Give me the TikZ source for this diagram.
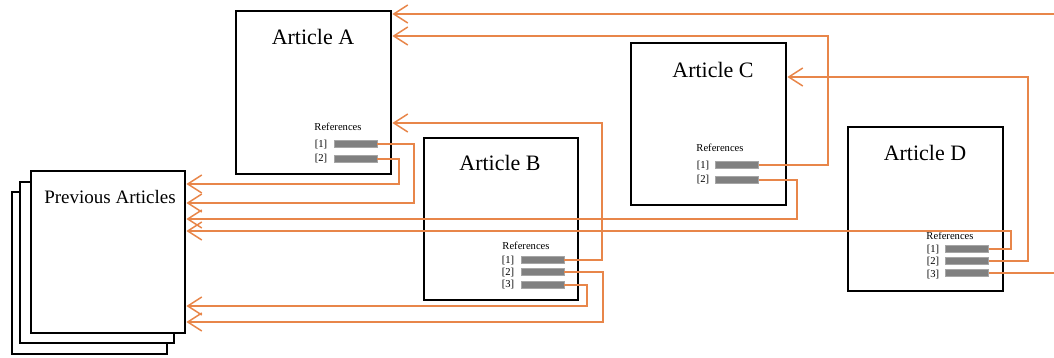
\documentclass[tikz,border=0pt]{standalone}
\usepackage{fontspec}
\setmainfont{Liberation Serif}
\usetikzlibrary{arrows.meta}
\definecolor{conn}{RGB}{232,134,74}
\definecolor{bargray}{RGB}{128,128,128}
\begin{document}
\begin{tikzpicture}[x=1pt,y=-1pt,
  artbox/.style={draw=black,line width=2.4pt,fill=white,anchor=north west,inner sep=0pt},
  title/.style={font=\fontsize{22}{24}\selectfont,inner sep=0pt},
  reftext/.style={font=\fontsize{10.6}{12}\selectfont,inner sep=0pt},
  refbar/.style={fill=bargray,draw=bargray!70,line width=0.6pt,minimum width=43pt,minimum height=7.5pt,inner sep=0pt},
  connector/.style={draw=conn,line width=1.5pt,-{Straight Barb[length=14pt,width=18pt,line width=1.5pt]}},
  plain/.style={draw=conn,line width=1.5pt}]
\useasboundingbox (0,0) rectangle (1054,358);
% previous articles stack
\draw[line width=2.4pt,fill=white] (12,192) rectangle (167,354);
\draw[line width=2.4pt,fill=white] (20,182) rectangle (174,343);
\node[artbox,minimum width=154pt,minimum height=162pt] (prev) at (30,170) {};
\node[inner sep=0pt,font=\fontsize{19}{22}\selectfont] (prevt) at (110,197) {Previous Articles};
% Article A
\node[artbox,minimum width=155pt,minimum height=163pt] (A) at (235,10) {};
\node[title] (At) at (313,37) {Article A};
\node[reftext] (Ar) at (338,127) {References};
\node[reftext] (Al1) at (321,144.5) {[1]};
\node[reftext] (Al2) at (321,158.5) {[2]};
\node[refbar] (A1) at (355.5,144) {};
\node[refbar] (A2) at (355.5,159) {};
% Article B
\node[artbox,minimum width=154pt,minimum height=162pt] (B) at (423,137) {};
\node[title] (Bt) at (500,163) {Article B};
\node[reftext] (Br) at (526,246) {References};
\node[reftext] (Bl1) at (508,260.5) {[1]};
\node[reftext] (Bl2) at (508,273) {[2]};
\node[reftext] (Bl3) at (508,285) {[3]};
\node[refbar] (B1) at (542.5,260) {};
\node[refbar] (B2) at (542.5,272) {};
\node[refbar] (B3) at (542.5,285) {};
% Article C
\node[artbox,minimum width=155pt,minimum height=162pt] (C) at (630,42) {};
\node[title] (Ct) at (713,70) {Article C};
\node[reftext] (Cr) at (720,148) {References};
\node[reftext] (Cl1) at (703,165.5) {[1]};
\node[reftext] (Cl2) at (703,179.5) {[2]};
\node[refbar] (C1) at (737,165) {};
\node[refbar] (C2) at (737,180) {};
% Article D
\node[artbox,minimum width=155pt,minimum height=164pt] (D) at (847,126) {};
\node[title] (Dt) at (925,153) {Article D};
\node[reftext] (Dr) at (950,236) {References};
\node[reftext] (Dl1) at (933,250) {[1]};
\node[reftext] (Dl2) at (933,262) {[2]};
\node[reftext] (Dl3) at (933,274.5) {[3]};
\node[refbar] (D1) at (967,249) {};
\node[refbar] (D2) at (967,261) {};
\node[refbar] (D3) at (967,273) {};
% free ends
\coordinate (topin) at (1054,14);
\coordinate (dout) at (1054,273);
% connectors
\draw[connector] (topin) -- (A.east |- 0,14);
\draw[connector] (A1.east) -| (414,203) -- (prev.east |- 0,203);
\draw[connector] (A2.east) -| (399,184) -- (prev.east |- 0,184);
\draw[connector] (B1.east) -| (602,123) -- (A.east |- 0,123);
\draw[connector] (B2.east) -| (603,322) -- (prev.east |- 0,322);
\draw[connector] (B3.east) -| (587,306) -- (prev.east |- 0,306);
\draw[connector] (C1.east) -| (828,36) -- (A.east |- 0,36);
\draw[connector] (C2.east) -| (797,219) -- (prev.east |- 0,219);
\draw[connector] (D1.east) -| (1011,231) -- (prev.east |- 0,231);
\draw[connector] (D2.east) -| (1028,77) -- (C.east |- 0,77);
\draw[plain] (D3.east) -- (dout);
\end{tikzpicture}
\end{document}
